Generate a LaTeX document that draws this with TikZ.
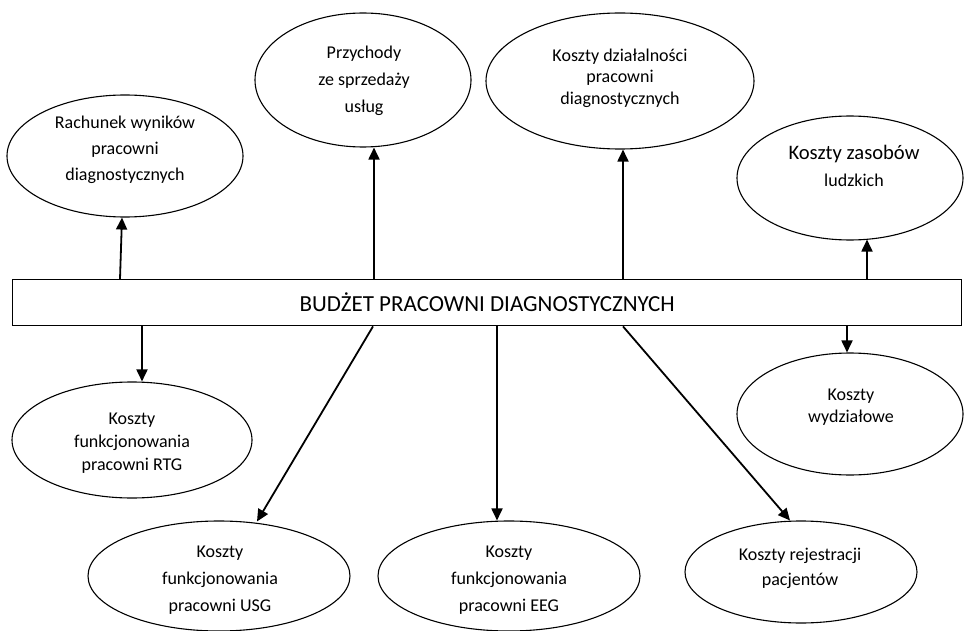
\documentclass[tikz,border=0pt]{standalone}
\usepackage{fontspec}
\setmainfont{Carlito}
\usetikzlibrary{shapes.geometric,arrows.meta}
\begin{document}
\begin{tikzpicture}[x=1pt,y=-1pt,
  ell/.style={draw, ellipse, inner sep=0pt, line width=1.1pt},
  lbl/.style={align=center, inner sep=0pt},
  arr/.style={line width=1.8pt, -{Triangle[length=12pt,width=11pt]}},
  boxst/.style={draw, line width=1.4pt, inner sep=0pt, anchor=north west,
    minimum width=949pt, minimum height=46pt}]
\useasboundingbox (0,0) rectangle (964,631);
% central box
\node[boxst, font=\fontsize{23pt}{27pt}\selectfont] (box) at (12,279) {BUDŻET PRACOWNI DIAGNOSTYCZNYCH};
% ellipses
\node[ell, minimum width=236pt, minimum height=122pt] (rach) at (125,156) {};
\node[ell, minimum width=216pt, minimum height=134pt] (przy) at (363,80) {};
\node[ell, minimum width=268pt, minimum height=136pt] (dzial) at (620,81) {};
\node[ell, minimum width=226pt, minimum height=124pt] (zas) at (850,178) {};
\node[ell, minimum width=240pt, minimum height=116pt] (rtg) at (132,440) {};
\node[ell, minimum width=226pt, minimum height=122pt] (wydz) at (850,414) {};
\node[ell, minimum width=262pt, minimum height=110pt] (usg) at (219,576) {};
\node[ell, minimum width=262pt, minimum height=110pt] (eeg) at (509,576) {};
\node[ell, minimum width=232pt, minimum height=102pt] (rej) at (801,572) {};
% labels
\node[lbl, font=\fontsize{18pt}{26pt}\selectfont] (trach) at (125,150) {Rachunek wyników\\pracowni\\diagnostycznych};
\node[lbl, font=\fontsize{18pt}{27pt}\selectfont] (tprzy) at (364,81) {Przychody\\ze sprzedaży\\usług};
\node[lbl, font=\fontsize{18pt}{21.5pt}\selectfont] (tdzial) at (620,78) {Koszty działalności\\pracowni\\diagnostycznych};
\node[lbl, font=\fontsize{18pt}{27pt}\selectfont] (tzas) at (854,166) {{\fontsize{20.6pt}{27pt}\selectfont Koszty zasobów}\\ludzkich};
\node[lbl, font=\fontsize{18pt}{23pt}\selectfont] (trtg) at (132,443) {Koszty\\funkcjonowania\\pracowni RTG};
\node[lbl, font=\fontsize{18pt}{22pt}\selectfont] (twydz) at (851,407) {Koszty\\wydziałowe};
\node[lbl, font=\fontsize{18pt}{27pt}\selectfont] (tusg) at (220,580) {Koszty\\funkcjonowania\\pracowni USG};
\node[lbl, font=\fontsize{18pt}{27pt}\selectfont] (teeg) at (509,580) {Koszty\\funkcjonowania\\pracowni EEG};
\node[lbl, font=\fontsize{18pt}{25pt}\selectfont] (trej) at (800,568) {Koszty rejestracji\\pacjentów};
% arrows up
\draw[arr] ([xshift=108pt]box.north west) -- ([xshift=-3pt]rach.south);
\draw[arr] ([xshift=362pt]box.north west) -- ([xshift=11pt]przy.south);
\draw[arr] ([xshift=611pt]box.north west) -- ([xshift=3pt]dzial.south);
\draw[arr] ([xshift=855pt]box.north west) -- ([xshift=17pt,yshift=1pt]zas.south);
% arrows down
\draw[arr] ([xshift=130pt]box.south west) -- ([xshift=10pt]rtg.north);
\draw[arr] ([xshift=361pt]box.south west) -- ([xshift=38pt,yshift=-1pt]usg.north);
\draw[arr] ([xshift=485pt]box.south west) -- ([xshift=-12pt]eeg.north);
\draw[arr] ([xshift=611pt]box.south west) -- ([xshift=-11pt]rej.north);
\draw[arr] ([xshift=835pt]box.south west) -- ([xshift=-3pt]wydz.north);
\end{tikzpicture}
\end{document}
